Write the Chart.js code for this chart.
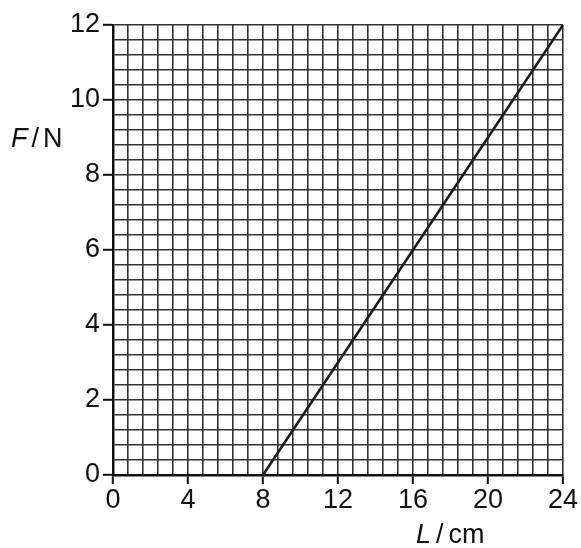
<!DOCTYPE html>
<html>
<head>
<meta charset="utf-8">
<script src="https://cdn.jsdelivr.net/npm/chart.js@4/dist/chart.umd.min.js"></script>
<style>
  html, body { margin: 0; padding: 0; background: #fff; }
  #wrap { width: 581px; height: 548px; }
</style>
</head>
<body>
<div id="wrap"><canvas id="c" width="581" height="548"></canvas></div>
<script>
// Data
const lengthCm = [8, 24];
const forceN = [0, 12];
const xRange = [0, 24];
const yRange = [0, 12];
const xMajorStep = 4;
const yMajorStep = 2;
const xMinorCount = 30;   // grid squares across
const yMinorCount = 30;   // grid squares up
const xTitle = ['L', '/', 'cm'];
const yTitle = ['F', '/', 'N'];

const points = lengthCm.map((x, i) => ({ x: x, y: forceN[i] }));
const isMajor = (v, step) => Math.abs(v / step - Math.round(v / step)) < 1e-6;
const minorTicks = (range, n) => {
  const out = [];
  for (let i = 0; i <= n; i++) out.push({ value: range[0] + (range[1] - range[0]) * i / n });
  return out;
};

const FONT = "'Liberation Sans', Arial, sans-serif";

function drawTitle(ctx, parts, x, y, gap, size) {
  ctx.font = "italic " + size + "px " + FONT;
  ctx.fillText(parts[0], x, y);
  x += ctx.measureText(parts[0]).width + gap;
  ctx.font = size + "px " + FONT;
  ctx.fillText(parts[1], x, y);
  x += ctx.measureText(parts[1]).width + gap;
  ctx.fillText(parts[2], x, y);
}

const titlePlugin = {
  id: 'axisTitles',
  afterDraw(chart) {
    const ctx = chart.ctx;
    ctx.save();
    ctx.fillStyle = '#111';
    ctx.textBaseline = 'alphabetic';
    drawTitle(ctx, yTitle, 11, 147, 4, 27);
    drawTitle(ctx, xTitle, 416, 543, 5, 27);
    ctx.restore();
  }
};

new Chart(document.getElementById('c'), {
  type: 'scatter',
  data: {
    datasets: [{
      data: points,
      showLine: true,
      borderColor: '#1a1a1a',
      borderWidth: 2.6,
      pointRadius: 0,
      fill: false
    }]
  },
  options: {
    responsive: false,
    animation: false,
    events: [],
    layout: { padding: { top: 25, right: 18, left: 0, bottom: 0 } },
    plugins: { legend: { display: false }, tooltip: { enabled: false } },
    scales: {
      x: {
        type: 'linear',
        min: xRange[0], max: xRange[1],
        afterBuildTicks(s) { s.ticks = minorTicks(xRange, xMinorCount); },
        afterFit(s) { s.height = 73; },
        border: { display: true, color: '#111', width: 2.5 },
        grid: {
          color: '#333',
          lineWidth: 1.6,
          tickLength: 9,
          tickColor: (c) => (c.tick && isMajor(c.tick.value, xMajorStep)) ? '#111' : 'rgba(0,0,0,0)',
          tickWidth: 2
        },
        ticks: {
          autoSkip: false,
          maxRotation: 0,
          padding: 0,
          color: '#111',
          font: { family: FONT, size: 27, lineHeight: 1.2 },
          callback: (v) => isMajor(v, xMajorStep) ? String(Math.round(v)) : ''
        }
      },
      y: {
        type: 'linear',
        min: yRange[0], max: yRange[1],
        afterBuildTicks(s) { s.ticks = minorTicks(yRange, yMinorCount); },
        afterFit(s) { s.width = 113; },
        border: { display: true, color: '#111', width: 2.5 },
        grid: {
          color: '#333',
          lineWidth: 1.6,
          tickLength: 10,
          tickColor: (c) => (c.tick && isMajor(c.tick.value, yMajorStep)) ? '#111' : 'rgba(0,0,0,0)',
          tickWidth: 2
        },
        ticks: {
          autoSkip: false,
          padding: 3,
          color: '#111',
          font: { family: FONT, size: 27, lineHeight: 1.2 },
          callback: (v) => isMajor(v, yMajorStep) ? String(Math.round(v)) : ''
        }
      }
    }
  },
  plugins: [titlePlugin]
});
</script>
</body>
</html>
